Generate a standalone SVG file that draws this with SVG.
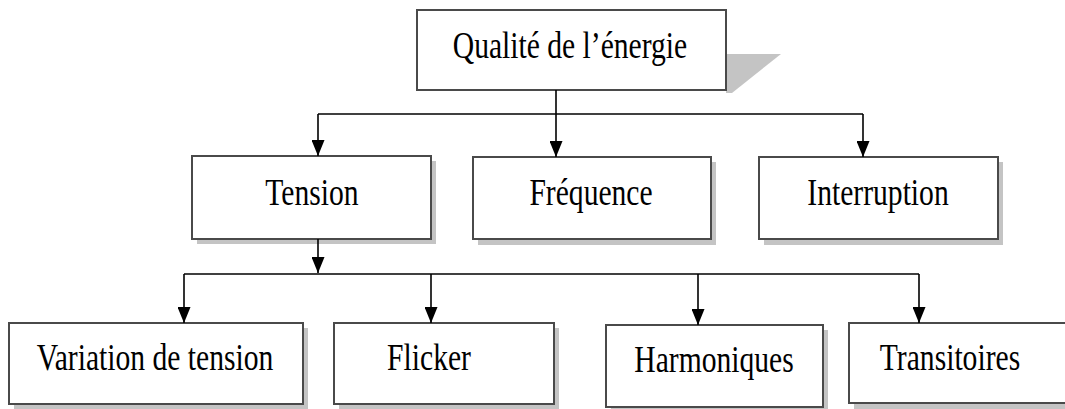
<svg xmlns="http://www.w3.org/2000/svg" width="1065" height="409" viewBox="0 0 1065 409">
  <defs>
    <marker id="arrow" viewBox="0 0 16 13" refX="16" refY="6.5" markerWidth="16" markerHeight="13" markerUnits="userSpaceOnUse" orient="auto">
      <path d="M0,0 L16,6.5 L0,13 Z" fill="#000"/>
    </marker>
    <style>
      .box { fill: #ffffff; stroke: #4a4a4a; stroke-width: 2; }
      .shadow { fill: #c4c4c4; stroke: none; }
      .label { font-family: "Liberation Serif", "Times New Roman", serif; font-size: 37px; fill: #000; text-anchor: middle; }
      .wire { fill: none; stroke: #000; stroke-width: 1.6; }
      .arrowed { marker-end: url(#arrow); }
    </style>
  </defs>
  <rect width="1065" height="409" fill="#ffffff"/>

  <!-- root node with slanted shadow -->
  <g id="qualite">
    <polygon class="shadow" points="726,54 781,54 732,93 726,93"/>
    <rect class="box" x="417" y="10" width="309" height="80"/>
    <text class="label" transform="translate(570,58) scale(0.8,1)">Qualité de l’énergie</text>
  </g>

  <!-- first level -->
  <g id="tension">
    <rect class="shadow" x="197" y="161" width="239" height="83"/>
    <rect class="box" x="192" y="156" width="239" height="83"/>
    <text class="label" transform="translate(312,205) scale(0.8,1)">Tension</text>
  </g>
  <g id="frequence">
    <rect class="shadow" x="478" y="162" width="238" height="83"/>
    <rect class="box" x="473" y="157" width="238" height="82"/>
    <text class="label" transform="translate(591,205) scale(0.8,1)">Fréquence</text>
  </g>
  <g id="interruption">
    <rect class="shadow" x="764" y="162" width="239" height="83"/>
    <rect class="box" x="759" y="157" width="239" height="82"/>
    <text class="label" transform="translate(878,205) scale(0.8,1)">Interruption</text>
  </g>

  <!-- second level -->
  <g id="variation">
    <rect class="shadow" x="14" y="328" width="294" height="81"/>
    <rect class="box" x="9" y="323" width="294" height="81"/>
    <text class="label" transform="translate(155,370) scale(0.8,1)">Variation de tension</text>
  </g>
  <g id="flicker">
    <rect class="shadow" x="339" y="328" width="220" height="81"/>
    <rect class="box" x="334" y="323" width="220" height="81"/>
    <text class="label" transform="translate(429,370) scale(0.8,1)">Flicker</text>
  </g>
  <g id="harmoniques">
    <rect class="shadow" x="611" y="330" width="217" height="82"/>
    <rect class="box" x="606" y="325" width="217" height="82"/>
    <text class="label" transform="translate(714,372) scale(0.8,1)">Harmoniques</text>
  </g>
  <g id="transitoires">
    <rect class="shadow" x="854" y="328" width="230" height="81"/>
    <rect class="box" x="849" y="323" width="230" height="80"/>
    <text class="label" transform="translate(950,370) scale(0.8,1)">Transitoires</text>
  </g>

  <!-- connectors -->
  <g id="connectors">
    <line class="wire" x1="556" y1="90" x2="556" y2="114"/>
    <line class="wire" x1="318" y1="114" x2="863" y2="114"/>
    <line class="wire arrowed" x1="318" y1="114" x2="318" y2="156"/>
    <line class="wire arrowed" x1="556" y1="114" x2="556" y2="157"/>
    <line class="wire arrowed" x1="863" y1="114" x2="863" y2="157"/>

    <line class="wire arrowed" x1="318" y1="239" x2="318" y2="273"/>
    <line class="wire" x1="184" y1="274" x2="919" y2="274"/>
    <line class="wire arrowed" x1="184" y1="274" x2="184" y2="323"/>
    <line class="wire arrowed" x1="431" y1="274" x2="431" y2="323"/>
    <line class="wire arrowed" x1="698" y1="274" x2="698" y2="325"/>
    <line class="wire arrowed" x1="919" y1="274" x2="919" y2="323"/>
  </g>
</svg>
